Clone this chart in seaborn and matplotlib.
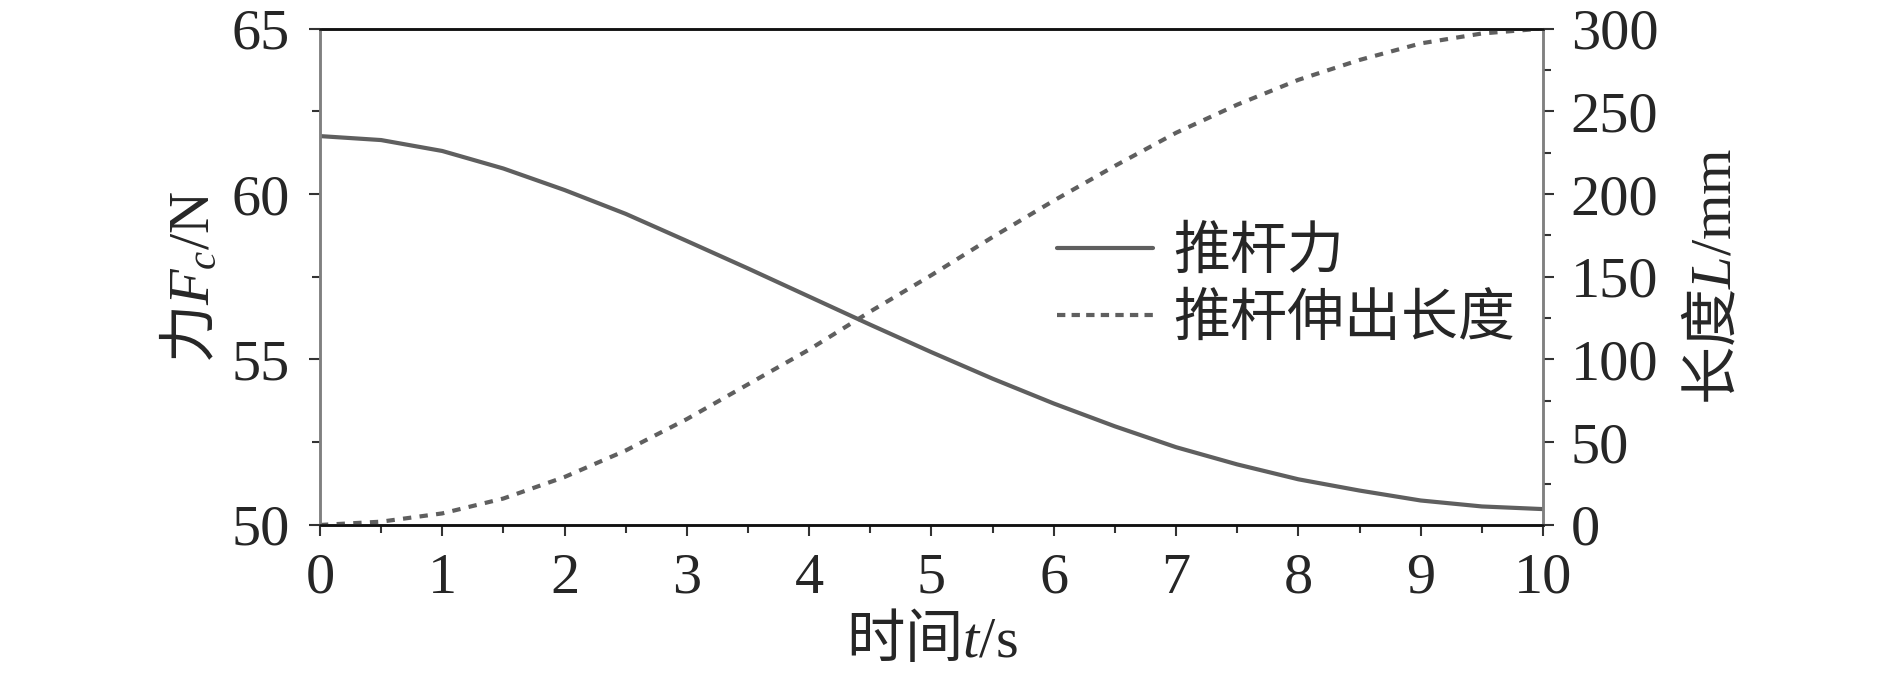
import seaborn as sns
import matplotlib.pyplot as plt
from matplotlib.ticker import MultipleLocator
from matplotlib.lines import Line2D

sns.set_theme(style="ticks")
plt.rcParams['font.family'] = ['Liberation Serif', 'Noto Sans CJK SC']
plt.rcParams['mathtext.fontset'] = 'custom'
plt.rcParams['mathtext.rm'] = 'Liberation Serif'
plt.rcParams['mathtext.it'] = 'Liberation Serif:italic'
plt.rcParams['mathtext.bf'] = 'Liberation Serif:bold'
plt.rcParams['axes.unicode_minus'] = False

# 读图得到的数据
t = [0, 0.5, 1, 1.5, 2, 2.5, 3, 3.5, 4, 4.5, 5,
     5.5, 6, 6.5, 7, 7.5, 8, 8.5, 9, 9.5, 10]
force = [61.75, 61.63, 61.30, 60.77, 60.12, 59.40, 58.58, 57.75, 56.90, 56.05, 55.22,
         54.42, 53.67, 52.98, 52.35, 51.83, 51.38, 51.04, 50.74, 50.56, 50.48]
length = [0, 2, 7, 16, 29, 45, 64, 85, 106, 129, 151,
          174, 196, 217, 237, 254, 269, 281, 291, 297, 300]
labels = ['推杆力', '推杆伸出长度']

line_c = '#5f5f5f'
fs = 42
cjk = 'Noto Sans CJK SC'

fig = plt.figure(figsize=(18.9, 6.76), dpi=100)
ax = fig.add_axes([0.1693, 0.2234, 0.6471, 0.7344])
ax2 = ax.twinx()

sns.lineplot(x=t, y=force, ax=ax, color=line_c, linewidth=3.0)
sns.lineplot(x=t, y=length, ax=ax2, color=line_c, linewidth=3.0, linestyle=(0, (2, 2)))

ax.set_xlim(0, 10)
ax.set_ylim(50, 65)
ax2.set_ylim(0, 300)

ax.xaxis.set_major_locator(MultipleLocator(1))
ax.xaxis.set_minor_locator(MultipleLocator(0.5))
ax.yaxis.set_major_locator(MultipleLocator(5))
ax.yaxis.set_minor_locator(MultipleLocator(2.5))
ax2.yaxis.set_major_locator(MultipleLocator(50))
ax2.yaxis.set_minor_locator(MultipleLocator(25))

ax.tick_params(axis='both', which='major', labelsize=fs, length=8, width=1.5,
               color='#333333', direction='out')
ax.tick_params(axis='both', which='minor', length=6, width=1.5, color='#333333')
ax.tick_params(axis='x', which='major', pad=12)
ax.tick_params(axis='y', which='major', pad=14)
ax2.tick_params(axis='y', which='major', labelsize=fs, length=8, width=1.5,
                color='#333333', pad=12)
ax2.tick_params(axis='y', which='minor', length=6, width=1.5, color='#333333')

for a in (ax, ax2):
    a.grid(False)
    for side in ('top', 'bottom'):
        a.spines[side].set_color('#111111')
        a.spines[side].set_linewidth(1.8)
    for side in ('left', 'right'):
        a.spines[side].set_color('#808080')
        a.spines[side].set_linewidth(1.8)

# 中文部分用 CJK 字体，公式部分用 Liberation Serif
ax.set_xlabel('时间$t\\mathrm{/s}$', fontsize=fs, family=cjk, labelpad=4)
ax.set_ylabel('力$F_c\\mathrm{/N}$', fontsize=fs, family=cjk, labelpad=6)
ax2.set_ylabel('长度$L\\mathrm{/mm}$', fontsize=fs, family=cjk)
ax2.yaxis.set_label_coords(1.116, 0.5)

handles = [Line2D([], [], color=line_c, linewidth=3.0),
           Line2D([], [], color=line_c, linewidth=3.0, linestyle=(0, (2, 1.5)))]
if ax.get_legend():
    ax.get_legend().remove()
leg = ax2.legend(handles, labels, loc='center left', bbox_to_anchor=(0.559, 0.578),
                 bbox_transform=fig.transFigure, frameon=False,
                 prop={'family': cjk, 'size': 41},
                 handlelength=1.7, handletextpad=0.35, labelspacing=0.15,
                 borderpad=0, borderaxespad=0)

fig.savefig('out.png', dpi=100)
